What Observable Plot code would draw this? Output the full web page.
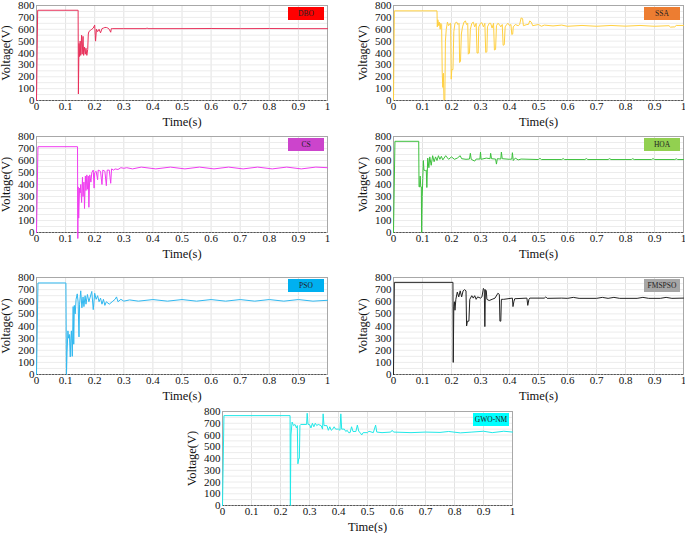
<!DOCTYPE html>
<html>
<head>
<meta charset="utf-8">
<script src="https://cdn.jsdelivr.net/npm/d3@7"></script>
<script src="https://cdn.jsdelivr.net/npm/@observablehq/plot@0.6"></script>
<style>
  html, body { margin: 0; padding: 0; background: #fff; }
  #wrap { position: relative; width: 685px; height: 533px; overflow: hidden; background: #fff; }
  .panel { position: absolute; }
  .panel text { font-family: "Liberation Serif", "Times New Roman", serif; }
  .lg { position: absolute; font-family: "Liberation Serif", serif; font-size: 7.5px; color: #222;
        display: flex; align-items: center; justify-content: center; }
</style>
</head>
<body>
<div id="wrap"></div>
<script>
// ---- tick labels / grid ----
const xTicks = [0, 0.1, 0.2, 0.3, 0.4, 0.5, 0.6, 0.7, 0.8, 0.9, 1];
const yTicks = [0, 100, 200, 300, 400, 500, 600, 700, 800];
const yGrid = [50, 100, 150, 200, 250, 300, 350, 400, 450, 500, 550, 600, 650, 700, 750];

// ---- series names ----
const names = ["DBO", "SSA", "CS", "HOA", "PSO", "FMSPSO", "GWO-NM"];

// ---- series values: [time (s), voltage (V)] ----
const dbo = [[0,0],[0.004,760],[0.143,760],[0.144,55],[0.146,480],[0.148,370],[0.150,500],[0.152,380],[0.155,550],[0.157,390],
  [0.160,540],[0.162,380],[0.165,450],[0.168,390],[0.170,440],[0.173,380],[0.176,430],[0.178,560],[0.180,580],[0.185,590],
  [0.190,600],[0.195,610],[0.200,635],[0.203,500],[0.206,600],[0.210,580],[0.215,600],[0.220,570],[0.225,605],[0.230,610],
  [0.235,615],[0.240,615],[0.245,610],[0.250,600],[0.255,575],[0.257,605],[0.260,605],[0.300,605],[0.378,605],[0.380,612],
  [0.382,605],[0.500,605],[0.600,606],[0.700,605],[0.800,606],[0.900,605],[1,605]];

const ssa = [[0,0],[0.003,755],[0.150,755],[0.151,620],[0.153,680],[0.156,630],[0.158,660],[0.161,600],[0.163,650],[0.166,640],
  [0.168,230],[0.170,110],[0.172,230],[0.174,5],[0.177,5],[0.179,500],[0.182,600],[0.186,660],[0.190,630],[0.195,650],
  [0.197,650],[0.199,180],[0.201,260],[0.205,260],[0.208,580],[0.212,650],[0.218,660],[0.222,640],[0.226,650],[0.228,320],
  [0.231,330],[0.234,560],[0.238,620],[0.243,660],[0.248,670],[0.252,640],[0.256,650],[0.258,390],[0.262,400],[0.265,600],
  [0.270,650],[0.275,660],[0.280,620],[0.285,650],[0.288,400],[0.292,400],[0.294,620],[0.300,650],[0.305,655],[0.310,620],
  [0.315,650],[0.318,405],[0.322,410],[0.324,620],[0.330,650],[0.335,650],[0.340,610],[0.345,650],[0.348,425],[0.352,430],
  [0.355,630],[0.360,650],[0.365,640],[0.370,620],[0.375,640],[0.378,465],[0.382,470],[0.385,620],[0.390,640],[0.395,650],
  [0.400,630],[0.405,640],[0.408,555],[0.411,560],[0.413,620],[0.420,640],[0.430,630],[0.435,640],[0.440,695],[0.445,690],
  [0.448,630],[0.460,640],[0.465,640],[0.470,670],[0.475,660],[0.480,630],[0.500,640],[0.510,625],[0.520,635],[0.550,628],
  [0.580,635],[0.600,625],[0.650,632],[0.700,625],[0.750,632],[0.800,626],[0.850,632],[0.900,625],[0.950,630],[0.955,618],
  [0.970,620],[0.975,632],[1,632]];

const cs = [[0,0],[0.005,715],[0.141,715],[0.142,-50],[0.143,380],[0.145,120],[0.148,370],[0.150,330],[0.152,400],[0.155,250],
  [0.158,460],[0.160,300],[0.163,420],[0.165,200],[0.168,470],[0.170,350],[0.173,480],[0.175,360],[0.178,470],[0.180,210],
  [0.183,480],[0.187,420],[0.190,500],[0.195,520],[0.198,370],[0.200,500],[0.205,510],[0.210,440],[0.212,520],[0.220,510],
  [0.225,400],[0.228,520],[0.235,510],[0.240,390],[0.243,520],[0.250,520],[0.255,410],[0.258,530],[0.265,520],[0.270,530],
  [0.280,525],[0.290,540],[0.300,535],[0.310,540],[0.330,530],[0.360,545],[0.410,530],[0.460,545],[0.510,530],[0.560,545],
  [0.610,530],[0.660,545],[0.710,530],[0.760,545],[0.810,530],[0.860,545],[0.910,530],[0.960,545],[1,540]];

const hoa = [[0,0],[0.005,760],[0.087,760],[0.088,380],[0.090,380],[0.092,470],[0.094,380],[0.096,380],[0.097,0],[0.099,300],
  [0.101,450],[0.103,600],[0.105,520],[0.110,515],[0.113,520],[0.115,375],[0.118,620],[0.122,540],[0.125,630],[0.130,560],
  [0.135,640],[0.140,590],[0.145,630],[0.150,600],[0.155,640],[0.160,610],[0.165,635],[0.170,605],[0.180,640],[0.190,610],
  [0.200,630],[0.210,610],[0.220,620],[0.230,640],[0.235,615],[0.250,610],[0.262,612],[0.265,660],[0.268,610],[0.280,595],
  [0.285,612],[0.298,612],[0.300,670],[0.302,610],[0.320,620],[0.333,615],[0.335,660],[0.338,615],[0.352,612],[0.355,570],
  [0.358,615],[0.370,612],[0.372,670],[0.375,615],[0.400,610],[0.408,612],[0.410,665],[0.413,600],[0.420,620],[0.430,605],
  [0.440,612],[0.500,608],[0.505,618],[0.510,608],[0.580,608],[0.585,616],[0.590,608],[0.660,608],[0.665,616],[0.670,608],
  [0.740,608],[0.745,615],[0.750,608],[0.820,608],[0.825,615],[0.830,608],[0.890,608],[0.895,616],[0.900,608],[0.970,608],
  [0.975,614],[0.980,608],[1,608]];

const pso = [[0,0],[0.005,755],[0.101,755],[0.103,0],[0.105,185],[0.108,360],[0.110,300],[0.113,330],[0.116,145],[0.118,300],
  [0.120,360],[0.123,150],[0.126,560],[0.128,250],[0.130,570],[0.133,500],[0.136,620],[0.140,665],[0.143,600],[0.146,310],
  [0.148,580],[0.152,690],[0.156,550],[0.160,640],[0.163,560],[0.167,650],[0.170,580],[0.175,660],[0.180,600],[0.190,685],
  [0.195,535],[0.200,670],[0.205,620],[0.210,650],[0.215,600],[0.220,630],[0.225,580],[0.230,620],[0.235,570],[0.240,600],
  [0.250,580],[0.260,600],[0.270,620],[0.275,640],[0.280,600],[0.290,620],[0.300,605],[0.320,615],[0.350,605],[0.400,618],
  [0.450,605],[0.500,618],[0.550,605],[0.600,618],[0.650,605],[0.700,618],[0.750,605],[0.800,618],[0.850,605],[0.900,618],
  [0.950,605],[1,612]];

const fmspso = [[0,0],[0.003,760],[0.205,760],[0.206,100],[0.208,560],[0.210,600],[0.212,530],[0.215,620],[0.220,680],[0.225,640],
  [0.230,690],[0.235,640],[0.240,690],[0.245,700],[0.250,690],[0.252,400],[0.255,440],[0.260,440],[0.263,620],[0.270,650],
  [0.275,630],[0.280,650],[0.285,620],[0.290,640],[0.300,630],[0.305,640],[0.310,710],[0.313,700],[0.315,395],[0.317,700],
  [0.320,690],[0.322,620],[0.330,610],[0.340,620],[0.350,630],[0.360,670],[0.365,660],[0.367,440],[0.370,440],[0.372,620],
  [0.380,620],[0.410,630],[0.412,560],[0.415,600],[0.418,625],[0.460,630],[0.463,570],[0.467,620],[0.470,630],[0.520,630],
  [0.525,640],[0.530,628],[0.580,630],[0.600,628],[0.620,636],[0.640,628],[0.700,628],[0.720,636],[0.740,628],[0.760,636],
  [0.780,628],[0.840,628],[0.860,636],[0.880,628],[0.920,628],[0.940,636],[0.960,628],[1,630]];

const gwonm = [[0,0],[0.005,765],[0.233,765],[0.234,0],[0.236,600],[0.240,710],[0.245,680],[0.250,690],[0.255,660],[0.258,680],
  [0.260,355],[0.263,400],[0.265,400],[0.267,680],[0.270,690],[0.290,690],[0.292,785],[0.295,690],[0.300,690],[0.305,660],
  [0.310,700],[0.315,670],[0.320,700],[0.325,680],[0.330,690],[0.340,680],[0.345,650],[0.347,780],[0.350,680],[0.360,680],
  [0.365,640],[0.370,670],[0.375,640],[0.380,650],[0.385,670],[0.390,650],[0.400,650],[0.405,640],[0.408,780],[0.411,650],
  [0.420,650],[0.425,630],[0.430,640],[0.435,620],[0.440,620],[0.445,670],[0.450,630],[0.460,630],[0.465,684],[0.470,630],
  [0.475,620],[0.480,600],[0.485,620],[0.500,620],[0.505,632],[0.520,620],[0.528,684],[0.532,625],[0.550,620],[0.580,625],
  [0.585,640],[0.590,625],[0.650,620],[0.700,625],[0.750,622],[0.780,630],[0.820,618],[0.860,625],[0.900,632],[0.930,620],
  [0.970,632],[1,625]];

const seriesData = [dbo, ssa, cs, hoa, pso, fmspso, gwonm];

// ---- styling / layout (not data) ----
const lineColors = ["#e8305a", "#ffd040", "#f03cf0", "#3cc03c", "#30b8f0", "#222222", "#20e8e8"];
const boxColors  = ["#ff0000", "#ed7d31", "#cc44cc", "#92d050", "#00b0f0", "#a6a6a6", "#00ffff"];
// plot-frame pixel boxes: [left, right, top, bottom]
const frames = [
  [36, 327, 5, 100], [393, 683, 5, 100],
  [36, 327, 136, 232], [393, 683, 136, 232],
  [36, 327, 277, 374], [393, 683, 277, 374],
  [222, 512, 411, 505]
];

const wrap = document.getElementById("wrap");
const mL = 36, mR = 6, mT = 6, mB = 28;
const serif = "'Liberation Serif', 'Times New Roman', serif";

names.forEach((name, i) => {
  const [fl, fr, ft, fb] = frames[i];
  const w = (fr - fl) + mL + mR;
  const h = (fb - ft) + mT + mB;
  const chart = Plot.plot({
    width: w, height: h,
    marginLeft: mL, marginRight: mR, marginTop: mT, marginBottom: mB,
    style: { fontFamily: serif, fontSize: "11px", color: "#111", background: "transparent", overflow: "visible" },
    x: { domain: [0, 1], ticks: xTicks, tickFormat: d => String(d), label: "Time(s)", labelArrow: "none", labelAnchor: "center", labelOffset: 25, tickSize: 0, tickPadding: 2 },
    y: { domain: [0, 800], ticks: yTicks, label: "Voltage(V)", labelArrow: "none", labelAnchor: "center", labelOffset: 35, tickSize: 0, tickPadding: 2 },
    marks: [
      Plot.gridX(xTicks, { stroke: "#e2e2e2", strokeOpacity: 1 }),
      Plot.gridY(yGrid, { stroke: "#ececec", strokeOpacity: 1 }),
      Plot.frame({ stroke: "#a8a8a8" }),
      Plot.ruleY([0], { stroke: "#555", strokeDasharray: "2,1.2" }),
      Plot.line(seriesData[i], { x: d => d[0], y: d => d[1], stroke: lineColors[i], strokeWidth: 1 })
    ]
  });
  chart.classList.add("panel");
  chart.style.left = (fl - mL) + "px";
  chart.style.top = (ft - mT) + "px";
  chart.querySelectorAll("text").forEach(t => {
    t.setAttribute("font-family", serif);
    if (t.textContent === "Time(s)" || t.textContent === "Voltage(V)") {
      t.setAttribute("font-size", "12.5px");
      t.style.fontSize = "12.5px";
    }
  });
  wrap.appendChild(chart);

  const lg = document.createElement("div");
  lg.className = "lg";
  lg.textContent = name;
  lg.style.background = boxColors[i];
  lg.style.width = "36px";
  lg.style.height = "13px";
  lg.style.left = (fr - 39) + "px";
  lg.style.top = (ft + 2) + "px";
  wrap.appendChild(lg);
});
</script>
</body>
</html>
